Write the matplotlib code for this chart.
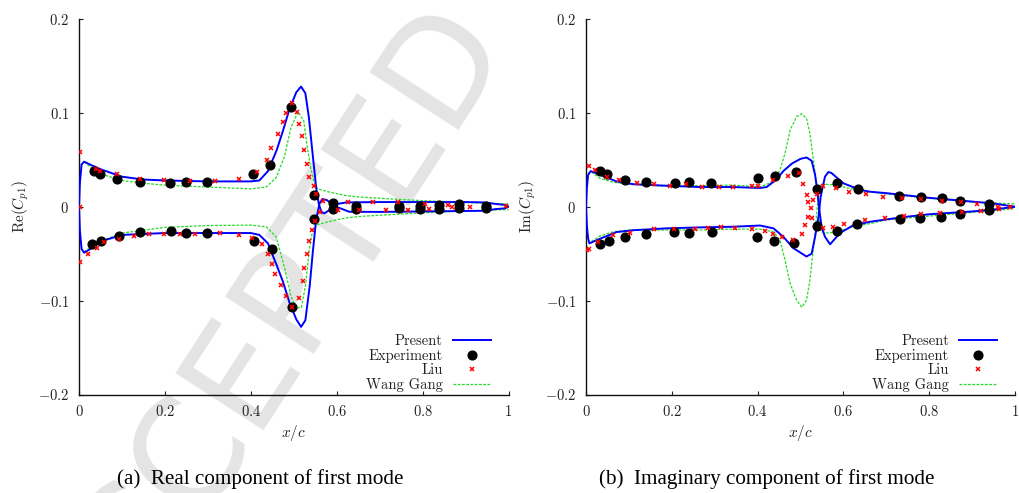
import matplotlib
matplotlib.use('Agg')
import matplotlib.pyplot as plt

# ---- Real component (left panel) ----
re_present_up_x = [0.0, 0.002, 0.006, 0.012, 0.03, 0.05, 0.1, 0.15, 0.2, 0.3, 0.4, 0.42, 0.44, 0.46,
                   0.475, 0.49, 0.506, 0.517, 0.527, 0.535, 0.543, 0.552, 0.558, 0.564, 0.571, 0.583,
                   0.599, 0.622, 0.7, 0.8, 0.9, 0.945, 0.97, 0.99, 1.0]
re_present_up_y = [0.0, 0.025, 0.045, 0.048, 0.044, 0.040, 0.032, 0.029, 0.028, 0.027, 0.027, 0.028,
                   0.038, 0.06, 0.081, 0.104, 0.122, 0.128, 0.121, 0.096, 0.0605, 0.021, 0.0036,
                   -0.0053, -0.0071, -0.0036, 0.0028, 0.0046, 0.005, 0.005, 0.005, 0.0046, 0.003, 0.002, 0.0]
re_present_lo_x = [0.0, 0.002, 0.006, 0.012, 0.03, 0.05, 0.1, 0.15, 0.2, 0.3, 0.4, 0.42, 0.44, 0.46,
                   0.475, 0.49, 0.506, 0.517, 0.527, 0.537, 0.544, 0.552, 0.56, 0.567, 0.577, 0.587,
                   0.599, 0.629, 0.7, 0.8, 0.9, 0.945, 0.97, 0.99, 1.0]
re_present_lo_y = [0.0, -0.025, -0.045, -0.049, -0.044, -0.037, -0.030, -0.029, -0.028, -0.028, -0.028,
                   -0.030, -0.039, -0.062, -0.080, -0.102, -0.120, -0.128, -0.121, -0.085, -0.05,
                   -0.0142, 0.0036, 0.0082, 0.0071, 0.0036, 0.0, -0.0053, -0.0055, -0.005, -0.0045,
                   -0.0043, -0.0025, -0.0018, 0.0]

re_wang_up_x = [0.012, 0.03, 0.05, 0.1, 0.15, 0.2, 0.3, 0.374, 0.4, 0.436, 0.459, 0.478, 0.494, 0.51,
                0.523, 0.531, 0.54, 0.548, 0.556, 0.58, 0.62, 0.65, 0.7, 0.8, 0.9, 1.0]
re_wang_up_y = [0.048, 0.041, 0.035, 0.028, 0.025, 0.023, 0.021, 0.0196, 0.019, 0.021, 0.031, 0.053,
                0.085, 0.101, 0.092, 0.065, 0.04, 0.025, 0.019, 0.016, 0.012, 0.0105, 0.009, 0.0065,
                0.0045, 0.003]
re_wang_lo_x = [0.012, 0.03, 0.05, 0.1, 0.15, 0.2, 0.3, 0.4, 0.436, 0.459, 0.478, 0.494, 0.506, 0.518,
                0.528, 0.536, 0.544, 0.556, 0.58, 0.62, 0.65, 0.7, 0.8, 0.9, 1.0]
re_wang_lo_y = [-0.048, -0.042, -0.037, -0.028, -0.025, -0.022, -0.020, -0.0196, -0.0213, -0.032,
                -0.064, -0.096, -0.108, -0.107, -0.082, -0.046, -0.025, -0.019, -0.016, -0.012,
                -0.0105, -0.009, -0.0065, -0.0045, -0.003]

re_exp_x = [0.034, 0.05, 0.089, 0.143, 0.211, 0.248, 0.298, 0.406, 0.445, 0.493, 0.546, 0.592, 0.645,
            0.746, 0.794, 0.839, 0.884, 0.947,
            0.031, 0.052, 0.094, 0.143, 0.214, 0.248, 0.298, 0.408, 0.45, 0.496, 0.546, 0.592, 0.645,
            0.746, 0.794, 0.839, 0.884, 0.947]
re_exp_y = [0.038, 0.035, 0.030, 0.026, 0.025, 0.026, 0.026, 0.035, 0.044, 0.106, 0.013, 0.004, 0.001,
            0.001, 0.001, 0.002, 0.003, 0.001,
            -0.040, -0.036, -0.031, -0.027, -0.026, -0.028, -0.028, -0.037, -0.045, -0.107, -0.0135,
            -0.002, -0.002, -0.001, -0.002, -0.002, -0.001, -0.001]

re_liu_x = [0.002, 0.002, 0.04, 0.05, 0.088, 0.143, 0.199, 0.259, 0.317, 0.373, 0.414, 0.437, 0.447,
            0.463, 0.475, 0.481, 0.497, 0.508, 0.513, 0.519, 0.525, 0.531, 0.536, 0.546, 0.552,
            0.569, 0.626, 0.684, 0.743, 0.805, 0.86, 0.91, 0.995,
            0.002, 0.022, 0.041, 0.059, 0.094, 0.128, 0.163, 0.199, 0.234, 0.27, 0.328, 0.373,
            0.402, 0.425, 0.44, 0.449, 0.457, 0.471, 0.481, 0.497, 0.512, 0.521, 0.524, 0.53,
            0.536, 0.542, 0.55, 0.562, 0.604, 0.651, 0.715, 0.766, 0.816, 0.868]
re_liu_y = [0.058, 0.0, 0.04, 0.038, 0.0345, 0.0295, 0.029, 0.027, 0.027, 0.03, 0.037, 0.05, 0.063,
            0.077, 0.09, 0.1, 0.11, 0.101, 0.088, 0.075, 0.06, 0.046, 0.032, 0.022, 0.0135,
            0.006, 0.0046, 0.005, 0.005, 0.003, 0.002, 0.0, 0.001,
            -0.0587, -0.05, -0.044, -0.038, -0.0345, -0.031, -0.0295, -0.0295, -0.0295, -0.029,
            -0.028, -0.03, -0.033, -0.04, -0.05, -0.0615, -0.072, -0.083, -0.095, -0.107, -0.097,
            -0.079, -0.065, -0.05, -0.036, -0.025, -0.015, -0.0057, -0.0035, -0.0035, -0.003,
            -0.003, -0.002, -0.0005]

# ---- Imaginary component (right panel) ----
im_present_up_x = [0.0, 0.002, 0.005, 0.011, 0.033, 0.071, 0.11, 0.188, 0.266, 0.343, 0.406, 0.421,
                   0.444, 0.46, 0.48, 0.5, 0.514, 0.526, 0.534, 0.539, 0.544, 0.549, 0.557, 0.569,
                   0.592, 0.622, 0.662, 0.7, 0.75, 0.8, 0.85, 0.9, 0.95, 1.0]
im_present_up_y = [0.0, 0.02, 0.034, 0.038, 0.034, 0.027, 0.024, 0.0224, 0.021, 0.021, 0.02, 0.021,
                   0.029, 0.038, 0.046, 0.051, 0.0525, 0.049, 0.034, 0.018, -0.0035, -0.021, -0.032,
                   -0.04, -0.028, -0.02, -0.016, -0.0135, -0.0105, -0.008, -0.0065, -0.005, -0.003, 0.0]
im_present_lo_x = [0.0, 0.002, 0.005, 0.008, 0.033, 0.071, 0.11, 0.188, 0.266, 0.343, 0.406, 0.437,
                   0.46, 0.483, 0.514, 0.526, 0.534, 0.542, 0.547, 0.557, 0.565, 0.572, 0.6, 0.639,
                   0.662, 0.7, 0.75, 0.8, 0.85, 0.9, 0.95, 1.0]
im_present_lo_y = [0.0, -0.02, -0.034, -0.039, -0.034, -0.027, -0.025, -0.023, -0.022, -0.0213,
                   -0.020, -0.023, -0.032, -0.044, -0.053, -0.05, -0.032, -0.0107, 0.0107, 0.032,
                   0.037, 0.036, 0.025, 0.018, 0.016, 0.0145, 0.012, 0.0095, 0.0075, 0.0055, 0.0035, 0.0]

im_wang_up_x = [0.013, 0.033, 0.064, 0.103, 0.18, 0.266, 0.343, 0.406, 0.437, 0.452, 0.464, 0.476,
                0.491, 0.503, 0.514, 0.522, 0.528, 0.534, 0.539, 0.544, 0.549, 0.561, 0.584, 0.623,
                0.662, 0.7, 0.8, 0.9, 1.0]
im_wang_up_y = [0.037, 0.030, 0.026, 0.024, 0.022, 0.0224, 0.023, 0.0213, 0.0267, 0.039, 0.057, 0.082,
                0.096, 0.099, 0.094, 0.078, 0.057, 0.036, 0.0107, -0.014, -0.0267, -0.028, -0.027,
                -0.021, -0.018, -0.014, -0.01, -0.006, -0.002]
im_wang_lo_x = [0.013, 0.033, 0.064, 0.103, 0.18, 0.266, 0.343, 0.406, 0.437, 0.452, 0.464, 0.476,
                0.491, 0.503, 0.514, 0.522, 0.528, 0.534, 0.539, 0.544, 0.553, 0.576, 0.614, 0.662,
                0.7, 0.8, 0.9, 1.0]
im_wang_lo_y = [-0.037, -0.031, -0.0266, -0.0248, -0.0248, -0.0248, -0.0238, -0.024, -0.0267, -0.0355,
                -0.057, -0.082, -0.0995, -0.107, -0.0995, -0.078, -0.053, -0.028, 0.0, 0.018, 0.024,
                0.0235, 0.0196, 0.016, 0.0135, 0.009, 0.005, 0.003]

im_exp_x = [0.033, 0.05, 0.091, 0.139, 0.207, 0.239, 0.292, 0.402, 0.44, 0.49, 0.538, 0.585, 0.635,
            0.73, 0.78, 0.829, 0.872, 0.939,
            0.033, 0.054, 0.09, 0.14, 0.205, 0.241, 0.294, 0.398, 0.438, 0.486, 0.538, 0.584, 0.631,
            0.732, 0.779, 0.827, 0.872, 0.939]
im_exp_y = [0.038, 0.035, 0.029, 0.026, 0.025, 0.026, 0.025, 0.031, 0.033, 0.037, 0.019, 0.025, 0.0185,
            0.0117, 0.0107, 0.0096, 0.0057, 0.0025,
            -0.040, -0.0366, -0.032, -0.029, -0.0266, -0.028, -0.027, -0.0327, -0.036, -0.039,
            -0.0206, -0.0256, -0.0188, -0.0131, -0.0117, -0.0107, -0.0082, -0.0036]

im_liu_x = [0.006, 0.021, 0.048, 0.077, 0.118, 0.159, 0.196, 0.232, 0.27, 0.309, 0.343, 0.386, 0.402,
            0.437, 0.47, 0.497, 0.505, 0.514, 0.517, 0.528, 0.524, 0.517, 0.527, 0.51, 0.504, 0.538,
            0.553, 0.583, 0.614, 0.653, 0.693, 0.736, 0.78, 0.829, 0.874, 0.911, 0.96, 0.988,
            0.002, 0.008, 0.029, 0.064, 0.103, 0.159, 0.205, 0.254, 0.285, 0.314, 0.347, 0.386,
            0.417, 0.437, 0.456, 0.483, 0.553, 0.575, 0.601, 0.65, 0.697, 0.741, 0.782, 0.825,
            0.876, 0.921, 0.963]
im_liu_y = [0.0437, 0.039, 0.032, 0.028, 0.025, 0.024, 0.022, 0.024, 0.021, 0.0206, 0.021, 0.022,
            0.0224, 0.028, 0.0327, 0.0356, 0.024, 0.0125, 0.0053, 0.0071, -0.001, -0.0107, -0.0124,
            -0.0195, -0.0294, 0.0135, 0.022, 0.02, 0.016, 0.0135, 0.01, 0.0096, 0.0078, 0.006,
            0.0046, 0.0028, 0.0, -0.0007,
            -0.046, -0.0455, -0.038, -0.030, -0.0277, -0.024, -0.0238, -0.0234, -0.0224, -0.0213,
            -0.0227, -0.0238, -0.026, -0.0295, -0.032, -0.0355, -0.023, -0.022, -0.0188, -0.0142,
            -0.0117, -0.0096, -0.0082, -0.0071, -0.006, -0.0046, -0.0028]

xticks = [0, 0.2, 0.4, 0.6, 0.8, 1.0]
xtick_labels = ['0', '0.2', '0.4', '0.6', '0.8', '1']
yticks = [-0.2, -0.1, 0, 0.1, 0.2]
ytick_labels = ['-0.2', '-0.1', '0', '0.1', '0.2']
legend_labels = ['Present', 'Experiment', 'Liu', 'Wang Gang']

BLUE = '#0000ff'
GREEN = '#22dd22'
RED = '#ff0000'
TXT = '#222222'

plt.rcParams['mathtext.fontset'] = 'cm'
plt.rcParams['axes.unicode_minus'] = False

fig = plt.figure(figsize=(10.19, 4.93), dpi=100)

# faint watermark behind the plots
fig.text(270 / 1019, 1 - 346 / 493, 'ACCEPTED', fontsize=104, color='#e4e4e4',
         rotation=57, rotation_mode='anchor', ha='center', va='center',
         family='DejaVu Sans', zorder=-5)


def draw_panel(ax, up, lo, wang_up, wang_lo, exp, liu, ylabel):
    ax.set_facecolor('none')
    ax.plot(up[0], up[1], color=BLUE, lw=1.4, label=legend_labels[0], zorder=3)
    ax.plot(lo[0], lo[1], color=BLUE, lw=1.4, zorder=3)
    ax.plot(exp[0], exp[1], 'o', color='black', ms=6.3, label=legend_labels[1], zorder=4)
    ax.plot(liu[0], liu[1], 'x', color=RED, ms=3, mew=1.1, label=legend_labels[2], zorder=5)
    ax.plot(wang_up[0], wang_up[1], color=GREEN, lw=0.9, ls=(0, (2.2, 1.2)),
            label=legend_labels[3], zorder=2)
    ax.plot(wang_lo[0], wang_lo[1], color=GREEN, lw=0.9, ls=(0, (2.2, 1.2)), zorder=2)

    ax.set_xlim(0, 1)
    ax.set_ylim(-0.2, 0.2)
    ax.set_xticks(xticks)
    ax.set_xticklabels(['$%s$' % s for s in xtick_labels])
    ax.set_yticks(yticks)
    ax.set_yticklabels(['$%s$' % s for s in ytick_labels])
    ax.tick_params(direction='in', length=3, width=0.8, labelsize=10.5, colors=TXT,
                   pad=7, top=False, right=False)
    for side in ('top', 'right'):
        ax.spines[side].set_visible(False)
    for side in ('left', 'bottom'):
        ax.spines[side].set_linewidth(1.0)
        ax.spines[side].set_color('#111111')
    ax.set_xlabel(r'$x/c$', fontsize=11, color=TXT, labelpad=3)
    ax.set_ylabel(ylabel, fontsize=11, color=TXT, labelpad=5)

    leg = ax.legend(loc='lower right', bbox_to_anchor=(0.962, 0.003), frameon=False,
                    markerfirst=False, numpoints=1, handlelength=2.6, handletextpad=0.7,
                    labelspacing=0.05, prop={'family': 'cmr10', 'size': 10.5},
                    borderpad=0.0, borderaxespad=0.1)
    for t in leg.get_texts():
        t.set_color(TXT)


ax1 = fig.add_axes([79 / 1019, 1 - 394.5 / 493, 429.5 / 1019, 375.5 / 493])
draw_panel(ax1, (re_present_up_x, re_present_up_y), (re_present_lo_x, re_present_lo_y),
           (re_wang_up_x, re_wang_up_y), (re_wang_lo_x, re_wang_lo_y),
           (re_exp_x, re_exp_y), (re_liu_x, re_liu_y), r'$\mathrm{Re}(C_{p1})$')

ax2 = fig.add_axes([586 / 1019, 1 - 394.5 / 493, 429 / 1019, 375.5 / 493])
draw_panel(ax2, (im_present_up_x, im_present_up_y), (im_present_lo_x, im_present_lo_y),
           (im_wang_up_x, im_wang_up_y), (im_wang_lo_x, im_wang_lo_y),
           (im_exp_x, im_exp_y), (im_liu_x, im_liu_y), r'$\mathrm{Im}(C_{p1})$')

fig.text(260 / 1019, 1 - 479 / 493, '(a)  Real component of first mode',
         family='Liberation Serif', fontsize=15.2, ha='center', va='center', color='black')
fig.text(767 / 1019, 1 - 479 / 493, '(b)  Imaginary component of first mode',
         family='Liberation Serif', fontsize=15.2, ha='center', va='center', color='black')

fig.savefig('out.png', dpi=100)
